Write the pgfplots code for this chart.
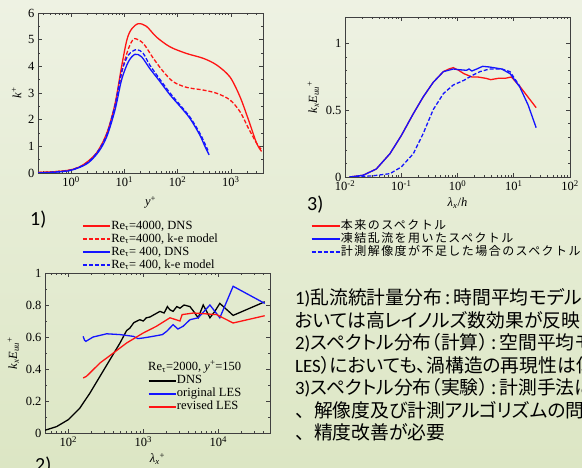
\documentclass[border=0pt]{standalone}
\usepackage{pgfplots}
\pgfplotsset{compat=1.18}
\usepackage{fontspec}
\setmainfont{Liberation Serif}
\newfontfamily\cjk[RawFeature=+palt]{Noto Sans CJK JP}
\newfontfamily\cjkfw{Noto Sans CJK JP}
\newfontfamily\cjkleg[LetterSpace=12]{Noto Sans CJK JP}
\newfontfamily\carl{Carlito}
\definecolor{bgtop}{RGB}{238,242,227}
\definecolor{bgbot}{RGB}{220,230,196}
\definecolor{myred}{RGB}{255,20,20}
\definecolor{myblue}{RGB}{20,20,255}
\pgfplotsset{
  base/.style={scale only axis, anchor=south west,
    axis line style={black!75,line width=0.8pt},
    every tick/.style={black!75,line width=0.6pt},
    tick align=inside, major tick length=4pt, minor tick length=2.2pt,
    ticklabel style={font=\fontsize{12.5}{13}\selectfont},
    label style={font=\fontsize{12.5}{13}\selectfont},
    /pgf/number format/assume math mode=true,
    legend cell align=left,
    legend style={draw=none, fill=none, inner sep=0pt, row sep=0pt,
      font=\fontsize{12.5}{13}\selectfont,
      nodes={inner sep=0.5pt, text height=9pt, text depth=3pt}},
  },
  rs/.style={myred, line width=1.3pt},
  rd/.style={myred, line width=1.3pt, dash pattern=on 4pt off 2pt},
  bs/.style={myblue, line width=1.3pt},
  bd/.style={myblue, line width=1.3pt, dash pattern=on 4pt off 2pt},
  li/.style 2 args={legend image code/.code={\draw[#1, line width=1.7pt] (0pt,0pt) -- (#2,0pt);}},
}
\begin{document}
\begin{tikzpicture}
\useasboundingbox (0,0) rectangle (582pt,468pt);
\clip (0,0) rectangle (582pt,468pt);
\shade[top color=bgtop, bottom color=bgbot] (0,0) rectangle (582pt,468pt);

% ---------- Panel 1 ----------
\begin{axis}[base, at={(38pt,295pt)}, width=225pt, height=160pt,
  xmode=log, xmin=0.24, xmax=4000, ymin=0, ymax=6,
  xtick={1,10,100,1000},
  xticklabels={10\textsuperscript{0},10\textsuperscript{1},10\textsuperscript{2},10\textsuperscript{3}},
  minor xtick={0.3,0.4,0.5,0.6,0.7,0.8,0.9,2,3,4,5,6,7,8,9,20,30,40,50,60,70,80,90,200,300,400,500,600,700,800,900,2000,3000},
  ytick={0,1,2,3,4,5,6}, minor y tick num=1,
  xlabel={\textit{y}\textsuperscript{+}}, ylabel={\textit{k}\textsuperscript{+}},
  xlabel style={yshift=-3pt},
  legend style={at={(0.195,-0.29)}, anchor=north west},
]
\addplot[rs, smooth, li={myred}{27pt}] coordinates {(0.24,0.02)(0.5,0.05)(1,0.12)(1.7,0.31)(3.0,0.75)(4.7,1.5)(6.7,2.6)(8.9,4.0)(11.2,5.0)(13.7,5.4)(18.3,5.6)(26,5.5)(40,5.1)(72,4.73)(148,4.48)(303,4.3)(540,4.05)(960,3.6)(1480,2.86)(2130,2.0)(3030,1.12)(3760,0.81)};
\addlegendentry{Re\textsubscript{τ}=4000, DNS}
\addplot[rd, smooth, li={myred, dash pattern=on 4pt off 2pt}{27pt}] coordinates {(0.24,0.02)(0.5,0.05)(1,0.12)(1.7,0.3)(3.0,0.72)(4.7,1.45)(6.7,2.5)(8.9,3.75)(11.2,4.5)(13.5,4.9)(15.8,5.04)(22.7,4.86)(35,4.3)(54,3.8)(83,3.42)(148,3.21)(303,3.11)(540,2.99)(960,2.74)(1480,2.3)(2130,1.68)(3030,1.12)(3760,0.87)};
\addlegendentry{Re\textsubscript{τ}=4000, k-e model}
\addplot[bs, smooth, li={myblue}{27pt}] coordinates {(0.24,0.0)(0.5,0.03)(1,0.1)(2.0,0.35)(3.3,0.8)(4.7,1.37)(6.7,2.37)(8.9,3.5)(11.9,4.17)(15.8,4.45)(21,4.36)(30,3.92)(47,3.42)(72,2.93)(111,2.5)(170,2.05)(260,1.43)(325,1.0)(390,0.68)};
\addlegendentry{Re\textsubscript{τ}= 400, DNS}
\addplot[bd, smooth, li={myblue, dash pattern=on 4pt off 2pt}{27pt}] coordinates {(0.24,0.0)(0.5,0.04)(1,0.11)(2.0,0.37)(3.3,0.85)(4.7,1.45)(6.7,2.55)(8.9,3.8)(11.9,4.42)(17,4.63)(22.7,4.48)(30,4.05)(47,3.5)(72,3.0)(111,2.55)(170,2.1)(260,1.5)(325,1.1)(370,0.85)};
\addlegendentry{Re\textsubscript{τ}= 400, k-e model}
\end{axis}

% ---------- Panel 3 ----------
\begin{axis}[base, at={(345pt,291pt)}, width=225pt, height=160pt,
  xmode=log, xmin=0.01, xmax=100, ymin=0, ymax=1.2,
  xtick={0.01,0.1,1,10,100},
  xticklabels={10\textsuperscript{-2},10\textsuperscript{-1},10\textsuperscript{0},10\textsuperscript{1},10\textsuperscript{2}},
  minor xtick={0.02,0.03,0.04,0.05,0.06,0.07,0.08,0.09,0.2,0.3,0.4,0.5,0.6,0.7,0.8,0.9,2,3,4,5,6,7,8,9,20,30,40,50,60,70,80,90},
  ytick={0,0.5,1}, minor y tick num=4,
  xlabel={\textit{λ}\textsubscript{\textit{x}}/\textit{h}},
  ylabel={\textit{k}\textsubscript{\textit{x}}\textit{E}\textsubscript{\textit{uu}}\textsuperscript{+}},
  legend style={at={(-0.153,-0.266)}, anchor=north west, font=\cjkleg\fontsize{12}{13}\selectfont},
]
\addplot[rs, li={myred}{28pt}] coordinates {(0.012,0.0)(0.021,0.013)(0.036,0.06)(0.063,0.175)(0.1,0.31)(0.164,0.475)(0.245,0.6)(0.37,0.71)(0.56,0.79)(0.7,0.81)(0.84,0.82)(1.05,0.80)(1.3,0.775)(1.8,0.75)(2.3,0.75)(3.2,0.74)(3.9,0.73)(5.3,0.74)(7.0,0.74)(9.1,0.75)(12.8,0.68)(25,0.52)};
\addlegendentry{本来のスペクトル}
\addplot[bs, li={myblue}{28pt}] coordinates {(0.012,0.0)(0.021,0.013)(0.036,0.06)(0.063,0.175)(0.1,0.31)(0.164,0.475)(0.245,0.6)(0.37,0.71)(0.56,0.79)(0.84,0.81)(1.05,0.805)(1.45,0.80)(1.6,0.81)(1.8,0.795)(2.2,0.81)(2.8,0.83)(3.7,0.825)(6.1,0.81)(8.6,0.775)(12.8,0.675)(18,0.54)(25,0.37)};
\addlegendentry{凍結乱流を用いたスペクトル}
\addplot[bd, li={myblue, dash pattern=on 4pt off 2pt}{28pt}] coordinates {(0.012,0.0)(0.03,0.008)(0.063,0.025)(0.1,0.075)(0.164,0.175)(0.245,0.325)(0.37,0.505)(0.56,0.625)(0.84,0.69)(1.3,0.725)(1.8,0.76)(2.5,0.79)(3.7,0.81)(6.1,0.81)(8.6,0.79)(12.8,0.68)};
\addlegendentry{計測解像度が不足した場合のスペクトル}
\end{axis}

% ---------- Panel 2 ----------
\begin{axis}[base, at={(45pt,35pt)}, width=225pt, height=160pt,
  xmode=log, xmin=49, xmax=49000, ymin=0, ymax=1,
  xtick={100,1000,10000},
  xticklabels={10\textsuperscript{2},10\textsuperscript{3},10\textsuperscript{4}},
  minor xtick={50,60,70,80,90,200,300,400,500,600,700,800,900,2000,3000,4000,5000,6000,7000,8000,9000,20000,30000,40000},
  ytick={0,0.2,0.4,0.6,0.8,1}, minor y tick num=1,
  xlabel={\textit{λ}\textsubscript{\textit{x}}\textsuperscript{+}},
  ylabel={\textit{k}\textsubscript{\textit{x}}\textit{E}\textsubscript{\textit{uu}}\textsuperscript{+}},
  legend style={at={(0.456,0.369)}, anchor=north west},
]
\addplot[black, line width=1.3pt, li={black}{27pt}] coordinates {(49,0.017)(70,0.04)(100,0.083)(143,0.156)(195,0.25)(265,0.354)(360,0.458)(490,0.5625)(600,0.64)(665,0.656)(750,0.69)(900,0.708)(1000,0.70)(1100,0.72)(1230,0.725)(1400,0.74)(1670,0.76)(1900,0.75)(2100,0.79)(2270,0.77)(2500,0.76)(2800,0.79)(3090,0.78)(3500,0.80)(4200,0.79)(4700,0.76)(5400,0.72)(6300,0.80)(7000,0.76)(7750,0.72)(9000,0.76)(10500,0.81)(15800,0.735)(41700,0.82)};
\addlegendentry{DNS}
\addplot[bs, li={myblue}{27pt}] coordinates {(158,0.604)(165,0.58)(172,0.573)(215,0.60)(325,0.62)(490,0.615)(740,0.604)(850,0.59)(1000,0.594)(1200,0.60)(1500,0.608)(1800,0.615)(2050,0.635)(2500,0.677)(2900,0.65)(3400,0.667)(4200,0.708)(5400,0.72)(7750,0.80)(10500,0.72)(15800,0.917)(41700,0.81)};
\addlegendentry{original LES}
\addplot[rs, li={myred}{27pt}] coordinates {(158,0.344)(175,0.354)(265,0.4375)(400,0.5)(600,0.5625)(1000,0.625)(1500,0.667)(2270,0.72)(3090,0.70)(3300,0.74)(4700,0.75)(9500,0.74)(15800,0.6875)(41700,0.733)};
\addlegendentry{revised LES}
\node[anchor=west, inner sep=0pt, font=\fontsize{12.5}{13}\selectfont] at (rel axis cs:0.458,0.4125) {Re\textsubscript{τ}=2000, \textit{y}\textsuperscript{+}=150};
\end{axis}

% ---------- Panel labels ----------
\node[anchor=west, inner sep=0pt, font=\carl\fontsize{20}{22}\selectfont] at (30pt,248.5pt) {1)};
\node[anchor=west, inner sep=0pt, font=\carl\fontsize{20}{22}\selectfont] at (307pt,263pt) {3)};
\node[anchor=west, inner sep=0pt, font=\carl\fontsize{20}{22}\selectfont] at (35pt,2pt) {2)};

% ---------- Text block ----------
\begin{scope}[every node/.style={anchor=base west, inner sep=0pt, font=\cjk\fontsize{18.8}{20}\selectfont}]
\node at (295pt,163pt) {{\carl 1)}乱流統計量分布\,:\,時間平均モデルにおいて};
\node at (295pt,140.5pt) {おいては高レイノルズ数効果が反映されない};
\node at (295pt,118pt) {{\carl 2)}スペクトル分布（計算）\,:\,空間平均モデル};
\node at (295pt,95.5pt) {{\carl LES}）においても、渦構造の再現性は低い};
\node at (295pt,73pt) {{\carl 3)}スペクトル分布（実験）\,:\,計測手法には};
\node at (295pt,50.5pt) {{\cjkfw 、}解像度及び計測アルゴリズムの問題};
\node at (295pt,28pt) {{\cjkfw 、}精度改善が必要};
\end{scope}
\end{tikzpicture}
\end{document}
